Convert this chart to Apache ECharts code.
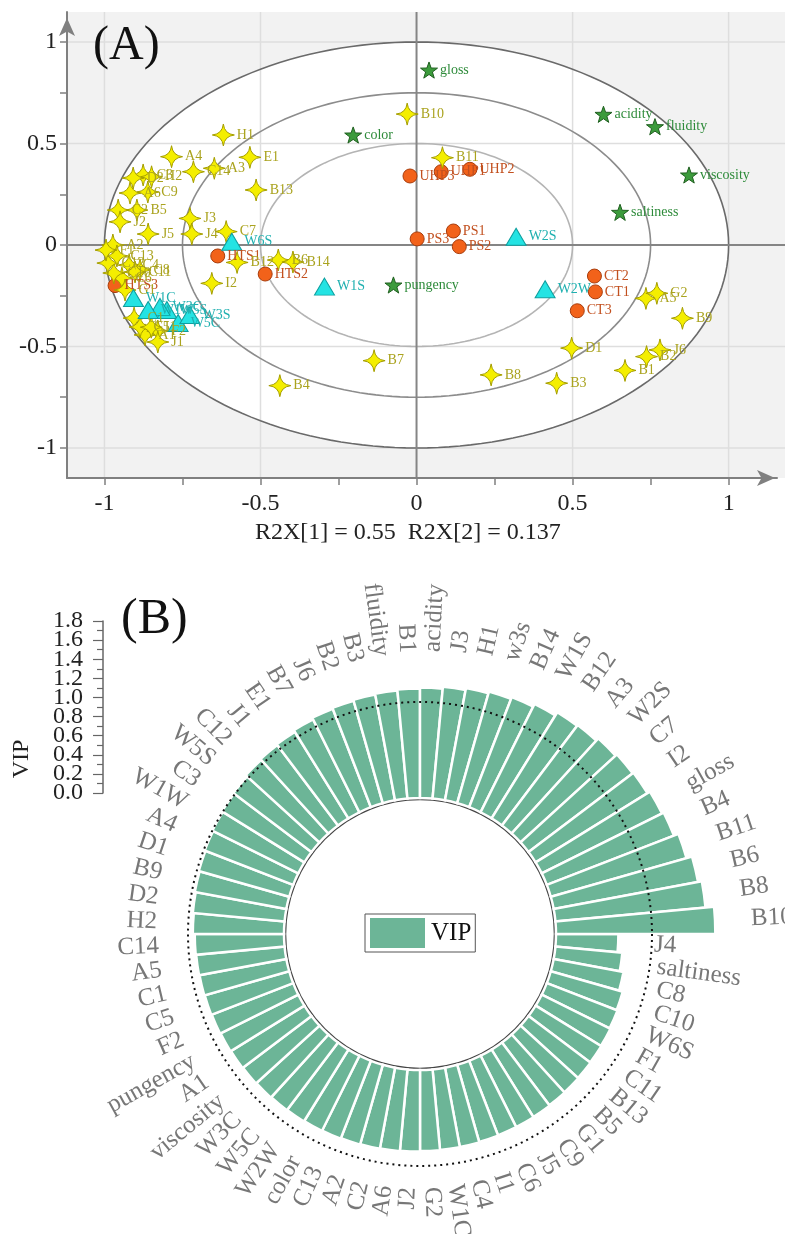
<!DOCTYPE html>
<html><head><meta charset="utf-8">
<script src="https://cdn.jsdelivr.net/npm/echarts@6/dist/echarts.min.js"></script>
<style>html,body{margin:0;padding:0;background:#fff}#c{width:785px;height:1234px}</style>
</head><body><div id="c"></div>
<script>
// ---------- Panel A data ----------
const sampleNames = ['A1','A2','A3','A4','A5','A6','B1','B2','B3','B4','B5','B6','B7','B8','B9','B10','B11','B12','B13','B14','C1','C2','C3','C4','C5','C6','C7','C8','C9','C10','C11','C12','C13','C14','D1','D2','E1','F1','F2','G1','G2','H1','H2','I1','I2','J1','J2','J3','J4','J5','J6'];
const sampleX = [-0.87,-0.973,-0.648,-0.785,0.735,-0.918,0.668,0.737,0.449,-0.438,-0.896,-0.443,-0.136,0.239,0.852,-0.03,0.083,-0.575,-0.514,-0.396,-0.905,-0.956,-0.876,-0.921,-0.886,-0.944,-0.61,-0.886,-0.861,-0.97,-0.902,-0.989,-0.96,-0.715,0.497,-0.908,-0.534,-0.995,-0.829,-0.934,0.77,-0.619,-0.849,-0.85,-0.656,-0.829,-0.95,-0.726,-0.72,-0.86,0.78];
const sampleY = [-0.443,0.0,0.378,0.435,-0.263,0.256,-0.618,-0.55,-0.681,-0.693,0.172,-0.074,-0.57,-0.64,-0.361,0.645,0.43,-0.086,0.271,-0.084,-0.36,0.172,0.345,-0.099,-0.404,-0.163,0.066,-0.123,0.261,-0.138,-0.133,-0.089,-0.054,0.361,-0.508,0.33,0.432,-0.025,-0.424,-0.222,-0.238,0.542,0.336,-0.405,-0.189,-0.478,0.114,0.131,0.054,0.054,-0.517];

const treatNames = ['UHP1','UHP2','UHP3','PS1','PS2','PS3','HTS1','HTS2','HTS3','CT1','CT2','CT3'];
const treatX = [0.079,0.171,-0.021,0.118,0.137,0.002,-0.637,-0.485,-0.966,0.573,0.57,0.515];
const treatY = [0.361,0.373,0.34,0.069,-0.008,0.03,-0.054,-0.143,-0.2,-0.231,-0.153,-0.324];

const sensorNames = ['W1C','W5S','W3C','W6S','W5C','W1S','W1W','W2S','W2W','W3S'];
const sensorX = [-0.907,-0.8,-0.822,-0.592,-0.764,-0.295,-0.86,0.319,0.412,-0.726];
const sensorY = [-0.261,-0.32,-0.305,0.016,-0.384,-0.205,-0.32,0.041,-0.218,-0.345];

const attrNames = ['gloss','color','acidity','fluidity','viscosity','saltiness','pungency'];
const attrX = [0.04,-0.203,0.599,0.764,0.873,0.652,-0.074];
const attrY = [0.862,0.542,0.644,0.583,0.345,0.161,-0.197];

const tickValuesA = [-1,-0.75,-0.5,-0.25,0,0.25,0.5,0.75,1];
const labelValuesA = [-1,-0.5,0,0.5,1];
const gridLineValues = [-1,-0.5,0.5,1];
const ellipseRadii = [0.5,0.75,1];

// ---------- Panel B data ----------
const vipCategories = ['J4','saltiness','C8','C10','W6S','F1','C11','B13','B5','G1','C9','J5','C6','I1','C4','W1C','G2','J2','A6','C2','A2','C13','color','W2W','W5C','W3C','viscosity','A1','pungency','F2','C5','C1','A5','C14','H2','D2','B9','D1','A4','W1W','C3','W5S','C12','J1','E1','B7','J6','B2','B3','fluidity','B1','acidity','J3','H1','w3s','B14','W1S','B12','A3','W2S','C7','I2','gloss','B4','B11','B6','B8','B10'];
const vipValues = [0.65,0.70,0.74,0.78,0.79,0.80,0.805,0.81,0.815,0.82,0.825,0.83,0.832,0.835,0.84,0.842,0.845,0.85,0.855,0.86,0.865,0.87,0.875,0.88,0.885,0.89,0.895,0.90,0.905,0.91,0.915,0.92,0.925,0.93,0.95,0.96,0.97,0.98,0.99,1.0,1.01,1.02,1.04,1.05,1.06,1.08,1.10,1.11,1.12,1.13,1.14,1.15,1.17,1.19,1.21,1.23,1.26,1.30,1.31,1.34,1.36,1.37,1.40,1.42,1.47,1.53,1.57,1.66];
const vipAxisMax = 1.8;
const vipLabelsEven = [0, 0.4, 0.8, 1.2, 1.6];
const vipLabelsOdd = [0.2, 0.6, 1.0, 1.4, 1.8];

const SERIF = 'Liberation Serif';
const X_MIN = -1.12, X_MAX = 1.155, Y_MIN = -1.148, Y_MAX = 1.148;

function pts(xs, ys, names){ return names.map((n,i)=>({name:n, value:[xs[i], ys[i]]})); }

function ellipsePts(api, r){
  const out = [];
  for (let k = 0; k <= 180; k++) {
    const t = 2*Math.PI*k/180;
    out.push(api.coord([r*Math.cos(t), r*Math.sin(t)]));
  }
  return out;
}

function renderBg(params, api){
  const cs = params.coordSys;
  const ch = [];
  ch.push({type:'rect', shape:{x:cs.x, y:cs.y, width:cs.width+10, height:cs.height}, style:{fill:'#f2f2f2'}});
  ch.push({type:'polygon', shape:{points:ellipsePts(api,1)}, style:{fill:'#ffffff'}});
  gridLineValues.forEach(v=>{
    const a = api.coord([v, Y_MIN]), b = api.coord([v, Y_MAX]);
    ch.push({type:'line', shape:{x1:a[0],y1:a[1],x2:b[0],y2:b[1]}, style:{stroke:'#dedede', lineWidth:1.5}});
    const c = api.coord([X_MIN, v]), d = api.coord([X_MAX, v]);
    ch.push({type:'line', shape:{x1:c[0],y1:c[1],x2:d[0]+10,y2:d[1]}, style:{stroke:'#dedede', lineWidth:1.5}});
  });
  const cols = ['#b4b4b4','#8c8c8c','#6a6a6a'];
  ellipseRadii.forEach((r,i)=>{
    ch.push({type:'polyline', shape:{points:ellipsePts(api,r)}, style:{stroke:cols[i], lineWidth:1.6, fill:null}});
  });
  const v1 = api.coord([0, Y_MIN]), v2 = api.coord([0, Y_MAX]);
  ch.push({type:'line', shape:{x1:v1[0],y1:v1[1],x2:v2[0],y2:v2[1]}, style:{stroke:'#858585', lineWidth:2}});
  const h1 = api.coord([X_MIN, 0]), h2 = api.coord([X_MAX, 0]);
  ch.push({type:'line', shape:{x1:h1[0],y1:h1[1],x2:h2[0]+10,y2:h2[1]}, style:{stroke:'#858585', lineWidth:2}});
  return {type:'group', children:ch};
}

const star4 = 'path://M0,-10 Q1,-1 10,0 Q1,1 0,10 Q-1,1 -10,0 Q-1,-1 0,-10 Z';
const star5 = 'path://M0,-10 L2.35,-3.24 L9.51,-3.09 L3.8,1.24 L5.88,8.09 L0,4 L-5.88,8.09 L-3.8,1.24 L-9.51,-3.09 L-2.35,-3.24 Z';

function lbl(color){ return {show:true, position:'right', distance:2, formatter:'{b}', fontSize:14, fontFamily:SERIF, color:color}; }

// label items for panel B
const step = 360 / vipCategories.length;
const labelOffset = 0.375;
const vipLabelData = vipCategories.map((name,i)=>{
  const phi = (i+0.5)*step;
  let rot, align;
  if (phi < 90 || phi >= 270) { rot = phi < 90 ? -phi : 360 - phi; align = 'left'; }
  else { rot = 180 - phi; align = 'right'; }
  return {name:name, value:[vipValues[i] + labelOffset, i], label:{rotate:rot, align:align}};
});

const vipLabelStyle = (vals)=>({show:true, customValues:vals, margin:20, fontSize:24, fontFamily:SERIF, color:'#222', formatter:(v)=>v.toFixed(1)});

const chart = echarts.init(document.getElementById('c'), null, {renderer:'canvas'});
const axisGray = '#808080';
chart.setOption({
  animation:false,
  backgroundColor:'#ffffff',
  title:[
    {text:'(A)', left:93, top:22, padding:0, textStyle:{fontSize:48, fontFamily:SERIF, fontWeight:'normal', color:'#111'}},
    {text:'R2X[1] = 0.55  R2X[2] = 0.137', left:255, top:521, padding:0, textStyle:{fontSize:24, fontFamily:SERIF, fontWeight:'normal', color:'#222'}},
    {text:'(B)', left:121, top:595, padding:0, textStyle:{fontSize:50, fontFamily:SERIF, fontWeight:'normal', color:'#111'}}
  ],
  graphic:[
    {type:'text', x:22, y:759, rotation:Math.PI/2, style:{text:'VIP', fontSize:24, fontFamily:SERIF, fill:'#222', textAlign:'center', textVerticalAlign:'middle'}}
  ],
  legend:{data:['VIP'], left:365, top:914, icon:'rect', itemWidth:57, itemHeight:32, borderColor:'#555', borderWidth:1, padding:[2,4,2,3], selectedMode:false,
    textStyle:{fontSize:25, fontFamily:SERIF, color:'#111'}},
  grid:[
    {left:67, top:12, right:8, bottom:756},
    {left:103, top:621, width:1, height:172}
  ],
  xAxis:[
    {gridIndex:0, type:'value', min:X_MIN, max:X_MAX, z:10,
     axisLine:{show:true, onZero:false, symbol:['none','arrow'], symbolSize:[12,18], symbolOffset:[0,-2], lineStyle:{color:axisGray, width:2}},
     axisTick:{show:true, length:7, customValues:tickValuesA, lineStyle:{color:axisGray, width:1.5}},
     axisLabel:{show:true, customValues:labelValuesA, margin:14, fontSize:24, fontFamily:SERIF, color:'#222'},
     splitLine:{show:false}},
    {gridIndex:1, type:'value', show:false}
  ],
  yAxis:[
    {gridIndex:0, type:'value', min:Y_MIN, max:Y_MAX, z:10,
     axisLine:{show:true, onZero:false, symbol:['none','arrow'], symbolSize:[12,18], symbolOffset:[0,-6], lineStyle:{color:axisGray, width:2}},
     axisTick:{show:true, length:7, customValues:tickValuesA, lineStyle:{color:axisGray, width:1.5}},
     axisLabel:{show:true, customValues:labelValuesA, margin:10, fontSize:24, fontFamily:SERIF, color:'#222'},
     splitLine:{show:false}},
    {gridIndex:1, type:'value', position:'left', min:0, max:vipAxisMax, interval:0.2,
     axisLine:{show:true, onZero:false, lineStyle:{color:'#666', width:1.5}},
     axisTick:{show:true, length:10, lineStyle:{color:'#666', width:1.2}},
     minorTick:{show:true, splitNumber:2, length:6, lineStyle:{color:'#666', width:1.2}},
     axisLabel:vipLabelStyle(vipLabelsEven),
     splitLine:{show:false}},
    {gridIndex:1, type:'value', position:'left', min:0, max:vipAxisMax, interval:0.2,
     axisLine:{show:false, onZero:false}, axisTick:{show:false}, minorTick:{show:false},
     axisLabel:vipLabelStyle(vipLabelsOdd),
     splitLine:{show:false}}
  ],
  polar:[
    {center:[420,934], radius:[136, 136 + 96*2.2]},
    {center:[420,934], radius:[0, 135]},
    {center:[420,934], radius:[0, 232]}
  ],
  angleAxis:[
    {polarIndex:0, type:'category', data:vipCategories, startAngle:0, clockwise:true,
     axisLine:{show:false}, axisTick:{show:false}, axisLabel:{show:false}, splitLine:{show:false}},
    {polarIndex:1, type:'value', min:0, max:360,
     axisLine:{show:true, lineStyle:{color:'#454545', width:2.5}}, axisTick:{show:false}, axisLabel:{show:false}, splitLine:{show:false}},
    {polarIndex:2, type:'value', min:0, max:360, z:10,
     axisLine:{show:true, lineStyle:{color:'#111', width:2, type:[2,4]}}, axisTick:{show:false}, axisLabel:{show:false}, splitLine:{show:false}}
  ],
  radiusAxis:[
    {polarIndex:0, type:'value', min:0, max:2.2, axisLine:{show:false}, axisTick:{show:false}, axisLabel:{show:false}, splitLine:{show:false}},
    {polarIndex:1, type:'value', axisLine:{show:false}, axisTick:{show:false}, axisLabel:{show:false}, splitLine:{show:false}},
    {polarIndex:2, type:'value', axisLine:{show:false}, axisTick:{show:false}, axisLabel:{show:false}, splitLine:{show:false}}
  ],
  series:[
    {type:'custom', name:'bg', coordinateSystem:'cartesian2d', xAxisIndex:0, yAxisIndex:0, z:1, silent:true,
     renderItem:renderBg, data:[[0,0]]},
    {type:'scatter', name:'attributes', xAxisIndex:0, yAxisIndex:0, z:3, symbol:star5, symbolKeepAspect:true, symbolSize:17,
     itemStyle:{color:'#3c9b3c', borderColor:'#1f5f1f', borderWidth:1, opacity:1}, label:lbl('#2e8b3a'), data:pts(attrX, attrY, attrNames)},
    {type:'scatter', name:'treatments', xAxisIndex:0, yAxisIndex:0, z:3, symbol:'circle', symbolSize:14,
     itemStyle:{color:'#f2621a', borderColor:'#a83c0c', borderWidth:1, opacity:1}, label:lbl('#c2501f'), data:pts(treatX, treatY, treatNames)},
    {type:'scatter', name:'samples', xAxisIndex:0, yAxisIndex:0, z:3, symbol:star4, symbolKeepAspect:true, symbolSize:22,
     itemStyle:{color:'#f4ee00', borderColor:'#a59e00', borderWidth:1, opacity:1}, label:lbl('#aaa31f'), data:pts(sampleX, sampleY, sampleNames)},
    {type:'scatter', name:'sensors', xAxisIndex:0, yAxisIndex:0, z:3, symbol:'triangle', symbolSize:[20,17],
     itemStyle:{color:'#24e3e3', borderColor:'#0e9e9e', borderWidth:1, opacity:1}, label:lbl('#1fb0b0'), data:pts(sensorX, sensorY, sensorNames)},
    {type:'bar', name:'VIP', coordinateSystem:'polar', polarIndex:0, data:vipValues, barCategoryGap:'0%',
     itemStyle:{color:'#6cb597', borderColor:'#ffffff', borderWidth:2.5}, z:2},
    {type:'scatter', name:'vipLabels', coordinateSystem:'polar', polarIndex:0, symbolSize:0.1, clip:false, silent:true, z:3,
     itemStyle:{color:'rgba(0,0,0,0)'},
     label:{show:true, position:'inside', formatter:'{b}', fontSize:25, fontFamily:SERIF, color:'#555', verticalAlign:'middle'},
     data:vipLabelData}
  ]
});
</script>
</body></html>
